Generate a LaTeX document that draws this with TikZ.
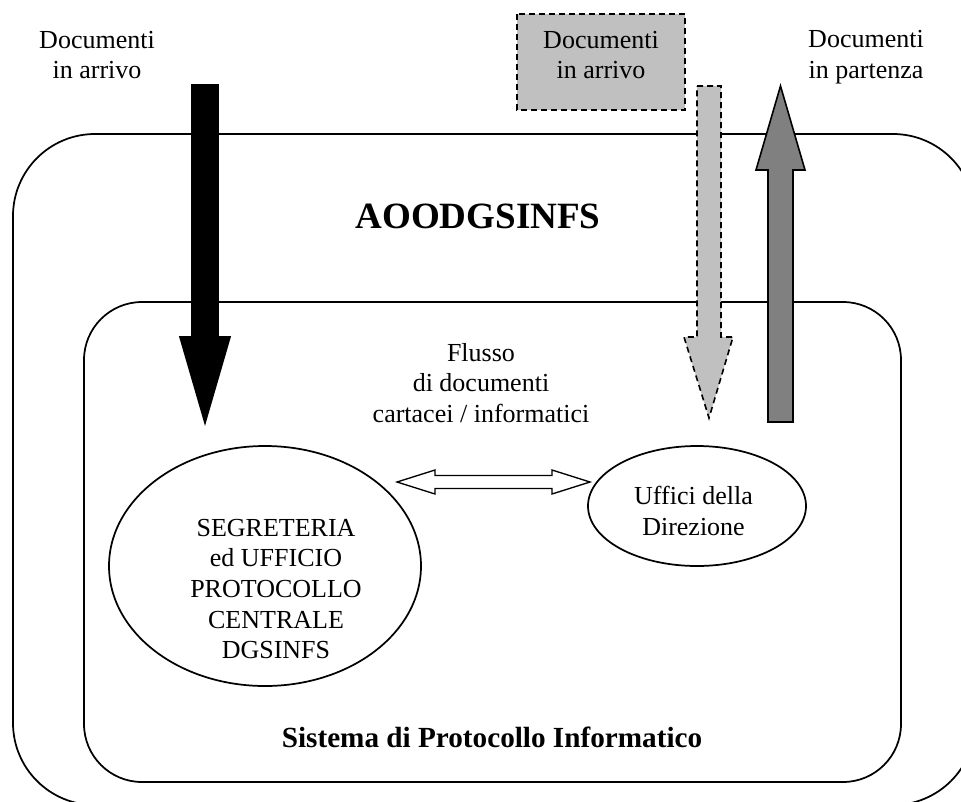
\documentclass[tikz,border=0pt]{standalone}
\usepackage{fontspec}
\setmainfont{Liberation Serif}
\usepackage{tikz}
\usetikzlibrary{shapes.geometric}

\definecolor{lightgr}{RGB}{192,192,192}
\definecolor{darkgr}{RGB}{128,128,128}

\tikzset{
  frame/.style={line width=1.3pt, rounded corners=#1},
  txt/.style={inner sep=0pt, align=center, font=\fontsize{19.5}{23}\selectfont},
  oval/.style={draw, ellipse, line width=1.3pt, inner sep=0pt},
  dashbox/.style={draw, fill=lightgr, line width=1.2pt, dash pattern=on 4.5pt off 3pt},
  blockarrow/.style={draw, line width=1.2pt, line join=miter}
}

\begin{document}
\begin{tikzpicture}[x=0.75pt,y=0.75pt,yscale=-1,xscale=1]
        \useasboundingbox (0,0) rectangle (961,801);
        \clip (0,0) rectangle (961,801);

        %Shape: outer frame
        \draw [frame=61.5pt] (13,134) rectangle (975,805);
        %Shape: inner frame
        \draw [frame=43.5pt] (84,302) rectangle (901,782);

        %Shape: black arrow down
        \draw [blockarrow, fill=black] (192,85) -- (218,85) -- (218,337) -- (230,337) -- (205,423) -- (180,337) -- (192,337) -- cycle ;
        %Shape: dashed arrow down
        \draw [dashbox, line join=miter] (697,86) -- (721,86) -- (721,337) -- (733,337) -- (709,418) -- (684,337) -- (697,337) -- cycle ;
        %Shape: gray arrow up
        \draw [blockarrow, fill=darkgr] (768,422) -- (793,422) -- (793,170) -- (805,170) -- (780.5,86) -- (756,170) -- (768,170) -- cycle ;
        %Shape: dashed box
        \draw [dashbox] (517,14) rectangle (685,110) ;

        % Ellipses
        \node [oval, minimum width=234pt, minimum height=180pt] (segr) at (265,566) {};
        \node [oval, minimum width=163.5pt, minimum height=90pt] (uffici) at (697,506) {};

        %Shape: double arrow
        \draw [blockarrow, fill=white, line width=1pt] (397,482) -- (435,470) -- (435,475.5) -- (552,475.5) -- (552,470) -- (590,482) -- (552,494) -- (552,488.5) -- (435,488.5) -- (435,494) -- cycle ;

        % Text Node
        \node [txt] (inleft) at (97,55) {Documenti\\in arrivo};
        % Text Node
        \node [txt] (inbox) at (601,55) {Documenti\\in arrivo};
        % Text Node
        \node [txt] (outright) at (866,57) {Documenti\\in partenza};
        % Text Node
        \node [inner sep=0pt, anchor=base, font=\fontsize{27.8}{32}\selectfont\bfseries] (aoo) at (478,228) {AOODGSINFS};
        % Text Node
        \node [txt] (flusso) at (481,383) {Flusso\\di documenti\\cartacei / informatici};
        % Text Node
        \node [txt] (segrtxt) at (276,589) {SEGRETERIA\\ed UFFICIO\\PROTOCOLLO\\CENTRALE\\DGSINFS};
        % Text Node
        \node [txt] (uffitxt) at (693.5,511) {Uffici della\\Direzione};
        % Text Node
        \node [inner sep=0pt, anchor=base, font=\fontsize{21.9}{26}\selectfont\bfseries] (sistema) at (492,747) {Sistema di Protocollo Informatico};

\end{tikzpicture}
\end{document}
